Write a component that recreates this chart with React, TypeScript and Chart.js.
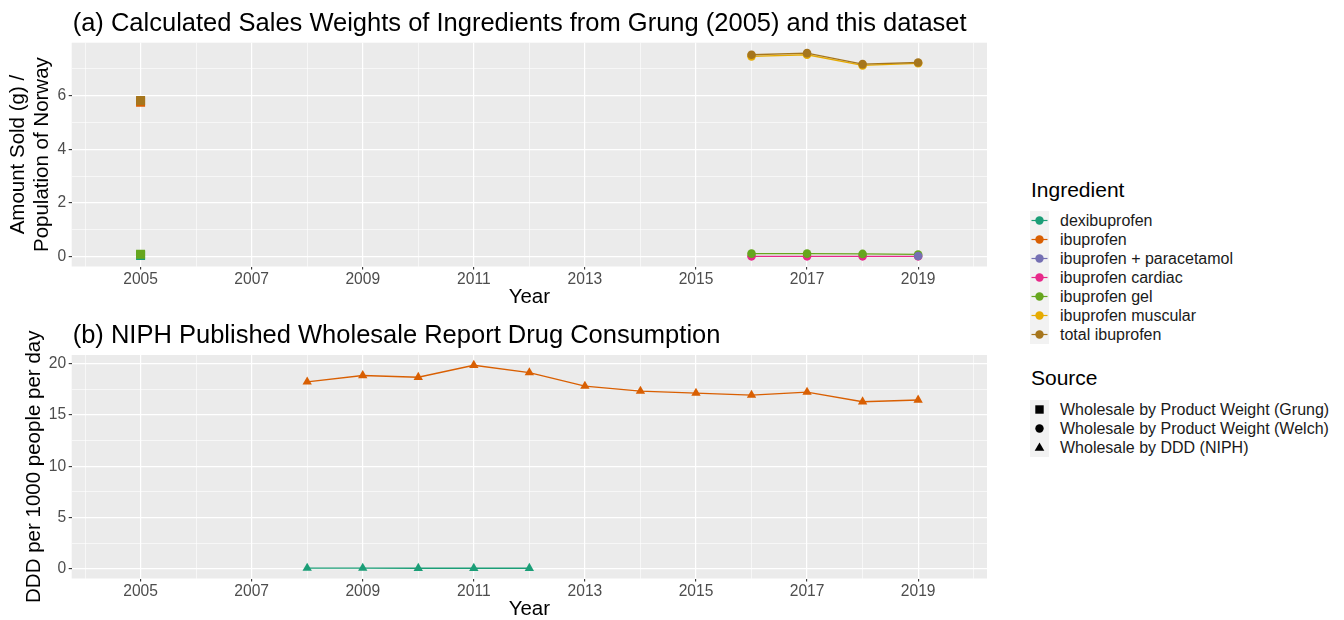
import React, { useEffect, useRef } from "react";
import { Chart, registerables } from "chart.js";

Chart.register(...registerables);

const FONT = "'Liberation Sans', Arial, Helvetica, sans-serif";

// ---------- categories / legend ----------
const INGREDIENTS = [
  "dexibuprofen",
  "ibuprofen",
  "ibuprofen + paracetamol",
  "ibuprofen cardiac",
  "ibuprofen gel",
  "ibuprofen muscular",
  "total ibuprofen",
];
const INGREDIENT_COLORS = ["#1B9E77", "#D95F02", "#7570B3", "#E7298A", "#66A61E", "#E6AB02", "#A6761D"];
const SOURCES = [
  "Wholesale by Product Weight (Grung)",
  "Wholesale by Product Weight (Welch)",
  "Wholesale by DDD (NIPH)",
];
const SOURCE_SHAPES = ["rect", "circle", "triangle"];

// ---------- titles ----------
const TITLE_A = "(a) Calculated Sales Weights of Ingredients from Grung (2005) and this dataset";
const TITLE_B = "(b) NIPH Published Wholesale Report Drug Consumption";
const X_TITLE = "Year";
const Y_TITLE_A = ["Amount Sold (g) /", "Population of Norway"];
const Y_TITLE_B = "DDD per 1000 people per day";

// ---------- ticks ----------
const X_GRID_YEARS = [2004, 2005, 2006, 2007, 2008, 2009, 2010, 2011, 2012, 2013, 2014, 2015, 2016, 2017, 2018, 2019, 2020];
const X_LABEL_YEARS = [2005, 2007, 2009, 2011, 2013, 2015, 2017, 2019];
const TOP_Y_GRID = [0, 1, 2, 3, 4, 5, 6, 7];
const TOP_Y_LABELS = [0, 2, 4, 6];
const BOTTOM_Y_GRID = [0, 2.5, 5, 7.5, 10, 12.5, 15, 17.5, 20];
const BOTTOM_Y_LABELS = [0, 5, 10, 15, 20];

// ---------- data: panel (a) ----------
const GRUNG_YEARS = [2005];
const grungTotal = [5.82];
const grungIbuprofen = [5.76];
const grungGel = [0.08];
const grungDexi = [0.03];

const WELCH_YEARS = [2016, 2017, 2018, 2019];
const welchTotal = [7.53, 7.59, 7.18, 7.24];
const welchMuscular = [7.47, 7.53, 7.13, 7.21];
const welchGel = [0.1, 0.1, 0.09, 0.07];
const welchCardiac = [0.0, 0.0, 0.0, 0.0];
const WELCH_PARA_YEARS = [2019];
const welchParacetamol = [0.01];

// ---------- data: panel (b) ----------
const NIPH_YEARS = [2008, 2009, 2010, 2011, 2012, 2013, 2014, 2015, 2016, 2017, 2018, 2019];
const niphIbuprofen = [18.23, 18.85, 18.68, 19.85, 19.14, 17.81, 17.33, 17.13, 16.94, 17.23, 16.29, 16.46];
const NIPH_DEXI_YEARS = [2008, 2009, 2010, 2011, 2012];
const niphDexi = [0.06, 0.06, 0.05, 0.05, 0.05];

const POINT_RADIUS: Record<string, number> = { rect: 6.4, circle: 4.3, triangle: 5.4 };

function series(years: number[], values: number[], ingredient: number, source: number) {
  const color = INGREDIENT_COLORS[ingredient];
  const shape = SOURCE_SHAPES[source];
  return {
    label: INGREDIENTS[ingredient] + " / " + SOURCES[source],
    data: years.map((y, i) => ({ x: y, y: values[i] })),
    borderColor: color,
    backgroundColor: color,
    borderWidth: 1.3,
    pointStyle: shape,
    pointRadius: POINT_RADIUS[shape],
    pointBorderWidth: 0,
    pointBackgroundColor: color,
    showLine: true,
    tension: 0,
  };
}

const panelBg = {
  id: "panelBg",
  beforeDraw(chart: any) {
    const { ctx, chartArea } = chart;
    ctx.save();
    ctx.fillStyle = "#EBEBEB";
    ctx.fillRect(chartArea.left, chartArea.top, chartArea.right - chartArea.left, chartArea.bottom - chartArea.top);
    ctx.restore();
  },
};

const panelTitle = {
  id: "panelTitle",
  afterDraw(chart: any, _args: any, opts: any) {
    const { ctx, chartArea } = chart;
    ctx.save();
    ctx.fillStyle = "#000";
    ctx.font = `${opts.size}px ${FONT}`;
    ctx.textBaseline = "alphabetic";
    ctx.textAlign = "left";
    ctx.fillText(opts.text, chartArea.left + 1, chartArea.top - 12);
    ctx.restore();
  },
};

function makeOptions(
  yMin: number,
  yMax: number,
  yGrid: number[],
  yLabels: number[],
  yTitle: any,
  yTitlePadTop: number,
  xHeight: number,
  xTitlePadBottom: number,
  topPad: number,
  title: string
) {
  const isMajorX = (v: number) => X_LABEL_YEARS.includes(v);
  const isMajorY = (v: number) => yLabels.includes(v);
  return {
    responsive: false,
    animation: false,
    devicePixelRatio: 1,
    events: [],
    layout: { padding: { top: topPad, right: 13, bottom: 0, left: 0 } },
    plugins: {
      legend: { display: false },
      tooltip: { enabled: false },
      title: { display: false },
      panelTitle: { text: title, size: 25.5 },
    },
    scales: {
      x: {
        type: "linear",
        min: 2003.76,
        max: 2020.24,
        afterBuildTicks: (s: any) => {
          s.ticks = X_GRID_YEARS.map((v) => ({ value: v }));
        },
        afterFit: (s: any) => {
          s.height = xHeight;
        },
        border: { display: false },
        grid: {
          color: "#FFFFFF",
          lineWidth: (c: any) => (isMajorX(c.tick?.value) ? 1.2 : 0.6),
          drawTicks: true,
          tickLength: 3,
          tickWidth: 1.1,
          tickColor: (c: any) => (isMajorX(c.tick?.value) ? "#333333" : "rgba(0,0,0,0)"),
        },
        ticks: {
          autoSkip: false,
          maxRotation: 0,
          minRotation: 0,
          padding: 0.5,
          color: "#4D4D4D",
          font: { family: FONT, size: 15.6 },
          callback: (v: any) => (isMajorX(v) ? String(v) : ""),
        },
        title: {
          display: true,
          text: X_TITLE,
          color: "#000",
          font: { family: FONT, size: 20.5, lineHeight: 1 },
          padding: { top: 0, bottom: xTitlePadBottom },
        },
      },
      y: {
        type: "linear",
        min: yMin,
        max: yMax,
        afterBuildTicks: (s: any) => {
          s.ticks = yGrid.map((v) => ({ value: v }));
        },
        afterFit: (s: any) => {
          s.width = 71.7;
        },
        border: { display: false },
        grid: {
          color: "#FFFFFF",
          lineWidth: (c: any) => (isMajorY(c.tick?.value) ? 1.2 : 0.6),
          drawTicks: true,
          tickLength: 3,
          tickWidth: 1.1,
          tickColor: (c: any) => (isMajorY(c.tick?.value) ? "#333333" : "rgba(0,0,0,0)"),
        },
        ticks: {
          autoSkip: false,
          padding: 2.5,
          color: "#4D4D4D",
          font: { family: FONT, size: 15.6 },
          callback: (v: any) => (isMajorY(v) ? String(v) : ""),
        },
        title: {
          display: true,
          text: yTitle,
          color: "#000",
          font: { family: FONT, size: 20.5, lineHeight: 1.17 },
          padding: { top: yTitlePadTop, bottom: 0 },
        },
      },
    },
  };
}

function LegendKeyIngredient({ color }: { color: string }) {
  return (
    <svg width={19} height={19} style={{ position: "absolute", left: 0, top: 0 }}>
      <rect x={0} y={0} width={19} height={19} fill="#F2F2F2" />
      <line x1={1.5} y1={9.5} x2={17.5} y2={9.5} stroke={color} strokeWidth={1.2} />
      <circle cx={9.5} cy={9.5} r={4.2} fill={color} />
    </svg>
  );
}

function LegendKeySource({ shape }: { shape: string }) {
  let mark: any = null;
  if (shape === "rect") mark = <rect x={5.3} y={5.3} width={8.4} height={8.4} fill="#000" />;
  else if (shape === "circle") mark = <circle cx={9.5} cy={9.5} r={4.2} fill="#000" />;
  else mark = <polygon points="9.5,4.5 14.3,12.8 4.7,12.8" fill="#000" />;
  return (
    <svg width={19} height={19} style={{ position: "absolute", left: 0, top: 0 }}>
      <rect x={0} y={0} width={19} height={19} fill="#F2F2F2" />
      {mark}
    </svg>
  );
}

export default function App() {
  const topRef = useRef<HTMLCanvasElement>(null);
  const botRef = useRef<HTMLCanvasElement>(null);

  useEffect(() => {
    const top = new Chart(topRef.current as HTMLCanvasElement, {
      type: "line",
      data: {
        datasets: [
          series(WELCH_YEARS, welchTotal, 6, 1),
          series(WELCH_YEARS, welchMuscular, 5, 1),
          series(GRUNG_YEARS, grungTotal, 6, 0),
          series(GRUNG_YEARS, grungIbuprofen, 1, 0),
          series(WELCH_PARA_YEARS, welchParacetamol, 2, 1),
          series(WELCH_YEARS, welchGel, 4, 1),
          series(WELCH_YEARS, welchCardiac, 3, 1),
          series(GRUNG_YEARS, grungGel, 4, 0),
          series(GRUNG_YEARS, grungDexi, 0, 0),
        ] as any,
      },
      options: makeOptions(-0.38, 7.98, TOP_Y_GRID, TOP_Y_LABELS, Y_TITLE_A, 6, 45.5, 4, 42.7, TITLE_A) as any,
      plugins: [panelBg, panelTitle],
    });
    const bot = new Chart(botRef.current as HTMLCanvasElement, {
      type: "line",
      data: {
        datasets: [series(NIPH_YEARS, niphIbuprofen, 1, 2), series(NIPH_DEXI_YEARS, niphDexi, 0, 2)] as any,
      },
      options: makeOptions(-0.95, 20.85, BOTTOM_Y_GRID, BOTTOM_Y_LABELS, Y_TITLE_B, 22, 41.5, 0, 43, TITLE_B) as any,
      plugins: [panelBg, panelTitle],
    });
    return () => {
      top.destroy();
      bot.destroy();
    };
  }, []);

  const legendLeft = 1030;
  const textLeft = 1060;
  return (
    <div
      style={{
        position: "absolute",
        left: 0,
        top: 0,
        width: 1344,
        height: 620,
        overflow: "hidden",
        background: "#FFFFFF",
        fontFamily: FONT,
        color: "#000",
      }}
    >
      <canvas ref={topRef} width={1000} height={312} style={{ position: "absolute", left: 0, top: 0 }} />
      <canvas ref={botRef} width={1000} height={308} style={{ position: "absolute", left: 0, top: 312 }} />

      <div style={{ position: "absolute", left: 1031, top: 178, fontSize: 21, lineHeight: "24px", whiteSpace: "nowrap" }}>
        Ingredient
      </div>
      {INGREDIENTS.map((name, i) => (
        <div key={name} style={{ position: "absolute", left: legendLeft, top: 210.5 + 19 * i, width: 300, height: 19 }}>
          <LegendKeyIngredient color={INGREDIENT_COLORS[i]} />
          <div
            style={{
              position: "absolute",
              left: textLeft - legendLeft,
              top: 0,
              fontSize: 16,
              lineHeight: "19px",
              whiteSpace: "nowrap",
              color: "#1A1A1A",
            }}
          >
            {name}
          </div>
        </div>
      ))}

      <div style={{ position: "absolute", left: 1031, top: 366, fontSize: 21, lineHeight: "24px", whiteSpace: "nowrap" }}>
        Source
      </div>
      {SOURCES.map((name, i) => (
        <div key={name} style={{ position: "absolute", left: legendLeft, top: 400 + 19 * i, width: 310, height: 19 }}>
          <LegendKeySource shape={SOURCE_SHAPES[i]} />
          <div
            style={{
              position: "absolute",
              left: textLeft - legendLeft,
              top: 0,
              fontSize: 16,
              lineHeight: "19px",
              whiteSpace: "nowrap",
              color: "#1A1A1A",
            }}
          >
            {name}
          </div>
        </div>
      ))}
    </div>
  );
}
